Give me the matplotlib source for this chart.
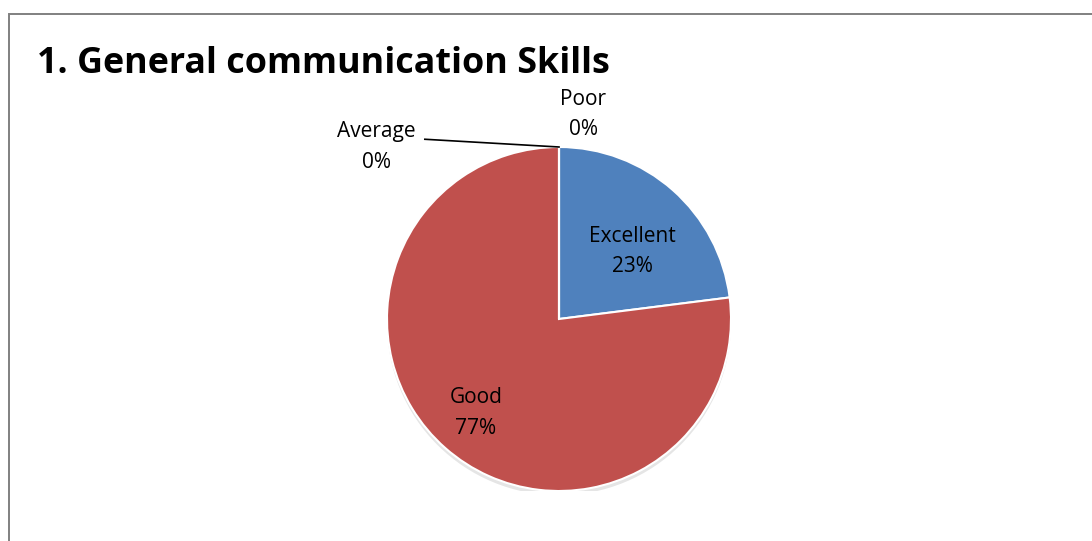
import matplotlib
matplotlib.use("Agg")
import matplotlib.pyplot as plt
import matplotlib.patches as mpatches
import numpy as np

# ---------------------------------------------------------------------------
# Data
# ---------------------------------------------------------------------------
categories = ["Excellent", "Good", "Average", "Poor"]
shares = [23, 77, 0, 0]          # percent
colors = ["#4F81BD", "#C0504D", "#9BBB59", "#8064A2"]

# ---------------------------------------------------------------------------
# Style
# ---------------------------------------------------------------------------
plt.rcParams.update({
    "font.family": "sans-serif",
    "font.sans-serif": ["Open Sans", "DejaVu Sans"],
})

W, H = 1092, 541
fig = plt.figure(figsize=(W / 100, H / 100), dpi=100)
fig.patch.set_facecolor("white")

# chart frame (runs off the right and bottom edges)
fig.add_artist(mpatches.Rectangle((9 / W, -0.1), 1.2, 1 - 13.5 / H + 0.1,
                                  transform=fig.transFigure, fill=False,
                                  edgecolor="#808080", linewidth=1.4))

fig.text(37 / W, 1 - 73 / H, "1. General communication Skills",
         fontsize=25.8, fontweight="bold", ha="left", va="baseline")

# pie axes: centre (559, 319) px, radius 172 px
cx, cy, r = 559, 319, 172
ax = fig.add_axes([(cx - r) / W, 1 - (cy + r) / H, 2 * r / W, 2 * r / H])

# soft shadow under the pie
ax.add_patch(mpatches.Circle((0.0, -0.025), 1.0, color="#000000", alpha=0.10,
                             zorder=0, linewidth=0))

wedges, _ = ax.pie(shares, colors=colors, startangle=90, counterclock=False,
                   radius=1.0,
                   wedgeprops=dict(edgecolor="white", linewidth=1.5))
ax.set_xlim(-1, 1)
ax.set_ylim(-1, 1)
ax.set_aspect("auto")
ax.axis("off")

lbl_kw = dict(fontsize=15, ha="center", va="center", linespacing=1.6)

# labels inside the non-zero slices
inside = {"Excellent": (0.58, -6), "Good": (0.73, 0)}
for w, name, val in zip(wedges, categories, shares):
    mid = np.deg2rad((w.theta1 + w.theta2) / 2)
    text = f"{name}\n{val}%"
    if name in inside:
        frac, dth = inside[name]
        a = mid + np.deg2rad(dth)
        ax.text(frac * np.cos(a), frac * np.sin(a), text, **lbl_kw)

# zero slices at the top: labels outside
top = np.deg2rad(wedges[2].theta1)
tx, ty = np.cos(top), np.sin(top)
ax.text(tx + 0.14, ty + 0.19, f"{categories[3]}\n{shares[3]}%", **lbl_kw)
ax.text(tx - 1.06, ty + 0.0, f"{categories[2]}\n{shares[2]}%", **lbl_kw)
ax.plot([tx - 0.78, tx], [ty + 0.045, ty], color="black", linewidth=1.2,
        clip_on=False)

fig.savefig("out.png", dpi=100)
